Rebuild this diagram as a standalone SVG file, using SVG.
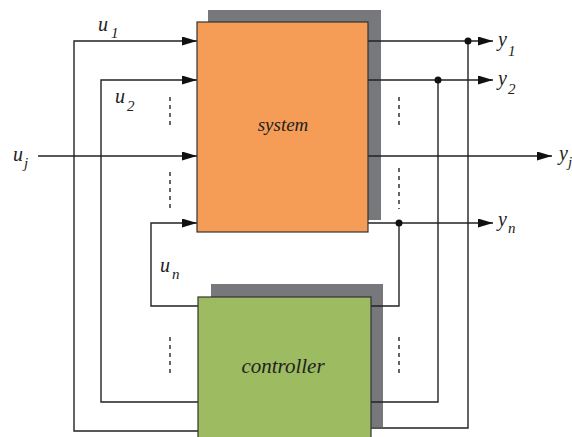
<svg xmlns="http://www.w3.org/2000/svg" width="572" height="437" viewBox="0 0 572 437">
<style>
.ln{fill:none;stroke:#222;stroke-width:1.4}
.dash{fill:none;stroke:#333;stroke-width:1.5;stroke-dasharray:4 4}
.shadow{fill:#77787b}
text{font-family:'Liberation Serif','DejaVu Serif',serif;font-style:italic;fill:#222}
.lbl{font-size:20px}
.sub{font-size:15px}
.dot{fill:#111}
</style>
<defs>
<marker id="arr" markerUnits="userSpaceOnUse" markerWidth="16" markerHeight="10" refX="15" refY="4.5" orient="auto">
<path d="M0,0 L15,4.5 L0,9 z" fill="#111"/>
</marker>
</defs>
<rect width="572" height="437" fill="#fff"/>
<g id="shadows">
<rect class="shadow" x="208" y="10" width="173" height="210"/>
<rect class="shadow" x="211" y="284" width="172" height="143"/>
</g>
<g id="connectors">
<path class="ln" d="M198,431 H74 V41 H197" marker-end="url(#arr)"/>
<path class="ln" d="M198,402 H101 V80 H197" marker-end="url(#arr)"/>
<path class="ln" d="M38,156 H197" marker-end="url(#arr)"/>
<path class="ln" d="M198,306 H151 V223 H197" marker-end="url(#arr)"/>
<path class="ln" d="M368,41 H493" marker-end="url(#arr)"/>
<path class="ln" d="M368,80 H493" marker-end="url(#arr)"/>
<path class="ln" d="M368,156 H552" marker-end="url(#arr)"/>
<path class="ln" d="M368,223 H493" marker-end="url(#arr)"/>
<path class="ln" d="M468,41 V428 H371"/>
<path class="ln" d="M438,80 V402 H371"/>
<path class="ln" d="M399,223 V306 H371"/>
<circle class="dot" cx="468" cy="41" r="3.5"/>
<circle class="dot" cx="438" cy="80" r="3.5"/>
<circle class="dot" cx="399" cy="223" r="3.5"/>
<path class="dash" d="M170,97 V129 M170,172 V212 M170,337 V376 M399,97 V129 M399,168 V209 M399,337 V376"/>
<text class="lbl" x="98" y="31">u</text><text class="sub" x="111" y="38">1</text>
<text class="lbl" x="115" y="103">u</text><text class="sub" x="127" y="111">2</text>
<text class="lbl" x="13" y="161">u</text><text class="sub" x="24" y="168">j</text>
<text class="lbl" x="160" y="272">u</text><text class="sub" x="172" y="279">n</text>
<text class="lbl" x="498" y="46">y</text><text class="sub" x="508" y="56">1</text>
<text class="lbl" x="498" y="85">y</text><text class="sub" x="508" y="94">2</text>
<text class="lbl" x="559" y="160">y</text><text class="sub" x="568" y="167">j</text>
<text class="lbl" x="498" y="226">y</text><text class="sub" x="508" y="233">n</text>
</g>
<g id="system">
<rect x="197" y="22" width="171" height="210" fill="#f59d56" stroke="#333" stroke-width="1.2"/>
<text x="283" y="131" text-anchor="middle" font-size="19">system</text>
</g>
<g id="controller">
<rect x="198" y="297" width="173" height="145" fill="#9dbb61" stroke="#333" stroke-width="1.2"/>
<text x="283" y="373" text-anchor="middle" font-size="21">controller</text>
</g>
</svg>
